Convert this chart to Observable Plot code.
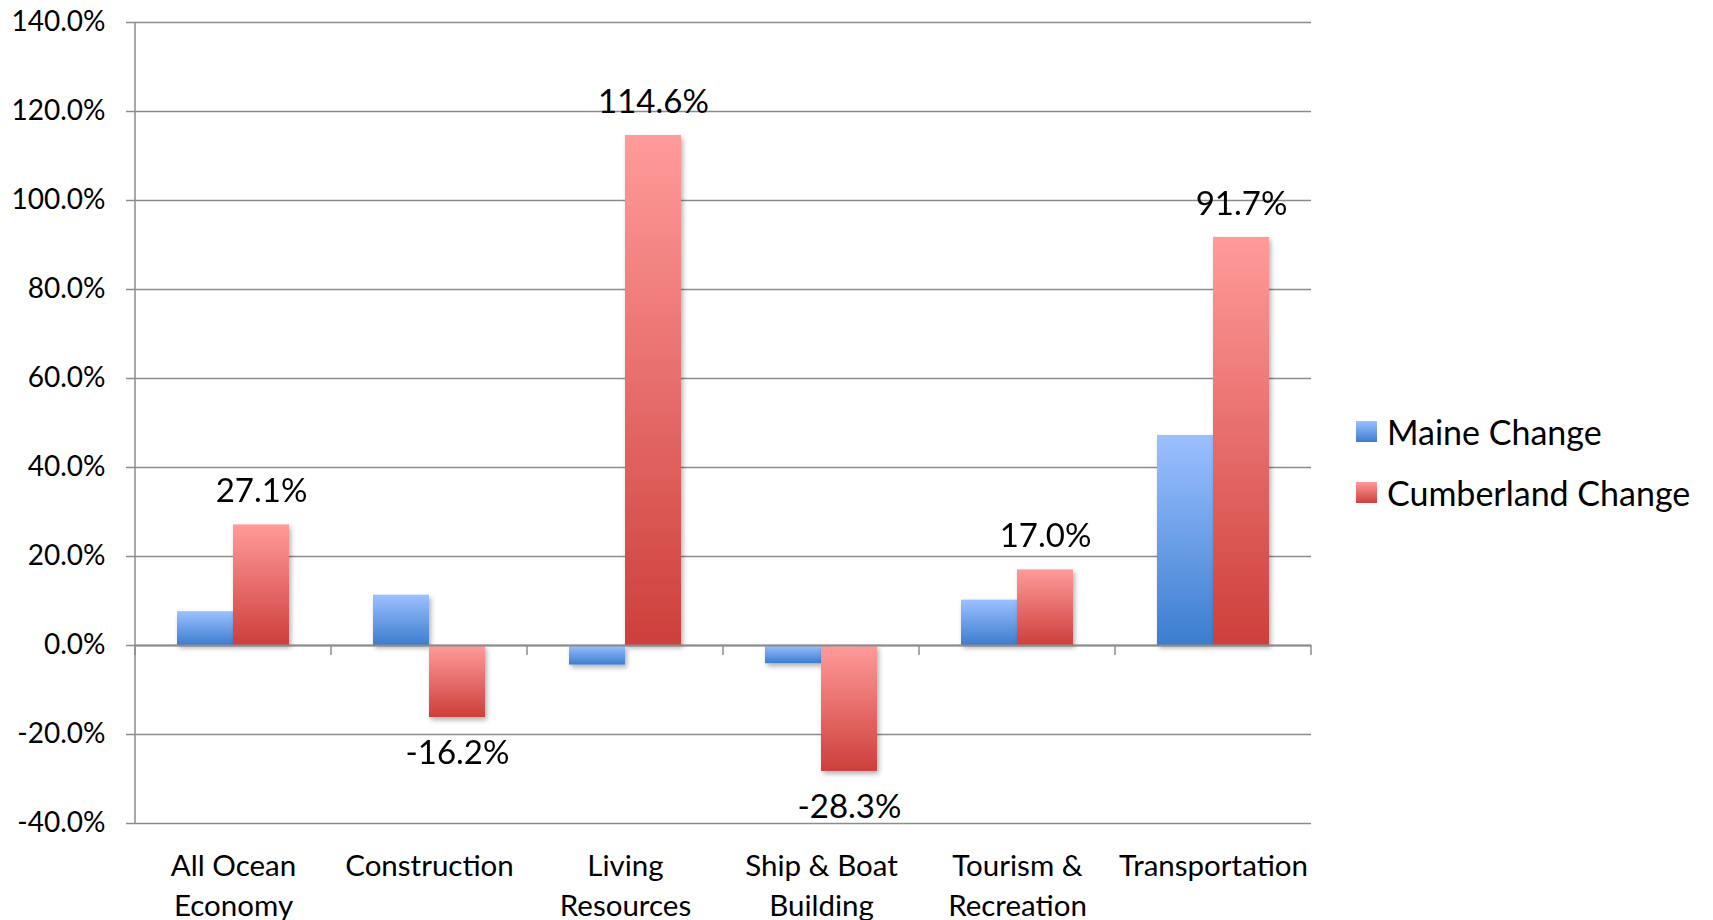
<!DOCTYPE html>
<html>
<head>
<meta charset="utf-8">
<script src="https://cdn.jsdelivr.net/npm/d3@7"></script>
<script src="https://cdn.jsdelivr.net/npm/@observablehq/plot@0.6"></script>
<style>
  html, body { margin: 0; padding: 0; background: #fff; }
  #wrap { position: relative; width: 1713px; height: 920px; overflow: hidden; font-family: Lato, "Open Sans", sans-serif; }
  #legend { position: absolute; left: 1356px; top: 401px; font-size: 34px; color: #000; }
  .item { display: flex; align-items: center; height: 61px; }
  .sw { width: 21px; height: 21px; margin-right: 10px; }
</style>
</head>
<body>
<div id="wrap"><div id="chart"></div><div id="legend"></div></div>
<script>
const categories = ["All Ocean\nEconomy", "Construction", "Living\nResources", "Ship & Boat\nBuilding", "Tourism &\nRecreation", "Transportation"];
const seriesNames = ["Maine Change", "Cumberland Change"];
const maineChange = [7.6, 11.3, -4.4, -4.1, 10.2, 47.2];
const cumberlandChange = [27.1, -16.2, 114.6, -28.3, 17.0, 91.7];
const yTicks = [-40, -20, 0, 20, 40, 60, 80, 100, 120, 140];

const rows = categories.flatMap((c, i) => [
  {category: c, series: seriesNames[0], value: maineChange[i]},
  {category: c, series: seriesNames[1], value: cumberlandChange[i]}
]);
const maineRows = rows.filter(d => d.series === seriesNames[0]);
const cumbRows = rows.filter(d => d.series === seriesNames[1]);
const fmt = d => d.toFixed(1) + "%";
const gridColor = "#8c8c8c";

const svg = Plot.plot({
  width: 1713,
  height: 920,
  marginLeft: 135,
  marginRight: 402,
  marginTop: 22,
  marginBottom: 97,
  style: {fontFamily: "Lato, 'Open Sans', sans-serif", fontSize: "28px", color: "#000", background: "transparent", overflow: "visible"},
  fx: {domain: categories, padding: 0, label: null},
  x: {domain: seriesNames, paddingInner: 0, paddingOuter: 0.72, axis: null},
  y: {domain: [-40, 140], label: null},
  marks: [
    Plot.ruleY(yTicks, {stroke: gridColor, strokeWidth: 1.5}),
    Plot.axisY(yTicks, {tickFormat: fmt, tickSize: 9, tickPadding: 21, stroke: gridColor, strokeWidth: 1.5, fontSize: 28, fill: "#000", label: null}),
    Plot.axisFx({anchor: "bottom", tickSize: 0, tickPadding: 25, fontSize: 29.5, lineHeight: 1.33, fill: "#000", label: null}),
    Plot.barY(maineRows, {fx: "category", x: "series", y: "value", fill: "url(#gradBlue)"}),
    Plot.barY(cumbRows, {fx: "category", x: "series", y: "value", fill: "url(#gradRed)"}),
    Plot.ruleY([0], {stroke: gridColor, strokeWidth: 2}),
    Plot.text(cumbRows.filter(d => d.value >= 0), {fx: "category", x: "series", y: "value", text: d => fmt(d.value), dy: -33, fontSize: 33, fill: "#000"}),
    Plot.text(cumbRows.filter(d => d.value < 0), {fx: "category", x: "series", y: "value", text: d => fmt(d.value), dy: 36, fontSize: 33, fill: "#000"})
  ]
});

const s = d3.select(svg);
const defs = s.insert("defs", ":first-child");
function grad(id, top, bottom) {
  const g = defs.append("linearGradient").attr("id", id).attr("x1", 0).attr("y1", 0).attr("x2", 0).attr("y2", 1);
  g.append("stop").attr("offset", "0%").attr("stop-color", top);
  g.append("stop").attr("offset", "100%").attr("stop-color", bottom);
}
grad("gradBlue", "#9cc0ff", "#3c7dcf");
grad("gradRed", "#ff9b9a", "#cd3f3b");
const f = defs.append("filter").attr("id", "shadow").attr("x", "-20%").attr("y", "-20%").attr("width", "150%").attr("height", "150%");
f.append("feDropShadow").attr("dx", 2).attr("dy", 3).attr("stdDeviation", 2.5).attr("flood-color", "#000").attr("flood-opacity", 0.3);
s.selectAll("g[aria-label='bar']").attr("filter", "url(#shadow)");

// axis line and category boundary ticks from the plot's own scales
const fxS = svg.scale("fx");
const yS = svg.scale("y");
const y = d3.scaleLinear(yS.domain, yS.range);
const fxBand = d3.scaleBand(fxS.domain, fxS.range).paddingInner(0).paddingOuter(0);
const boundaries = categories.map(c => fxBand(c)).concat([fxBand(categories[categories.length - 1]) + fxBand.bandwidth()]);
const extra = s.append("g").attr("stroke", gridColor).attr("stroke-width", 1.5);
extra.append("line").attr("x1", fxS.range[0]).attr("x2", fxS.range[0]).attr("y1", y(140)).attr("y2", y(-40));
extra.selectAll("line.bt").data(boundaries).join("line").attr("class", "bt")
  .attr("x1", d => d).attr("x2", d => d).attr("y1", y(0)).attr("y2", y(0) + 10);

document.getElementById("chart").appendChild(svg);

const legend = d3.select("#legend");
const legendItems = [{name: seriesNames[0], grad: ["#9cc0ff", "#3c7dcf"]}, {name: seriesNames[1], grad: ["#ff9b9a", "#cd3f3b"]}];
legendItems.forEach(it => {
  const item = legend.append("div").attr("class", "item");
  item.append("div").attr("class", "sw").style("background", `linear-gradient(${it.grad[0]}, ${it.grad[1]})`);
  item.append("span").text(it.name);
});
</script>
</body>
</html>
